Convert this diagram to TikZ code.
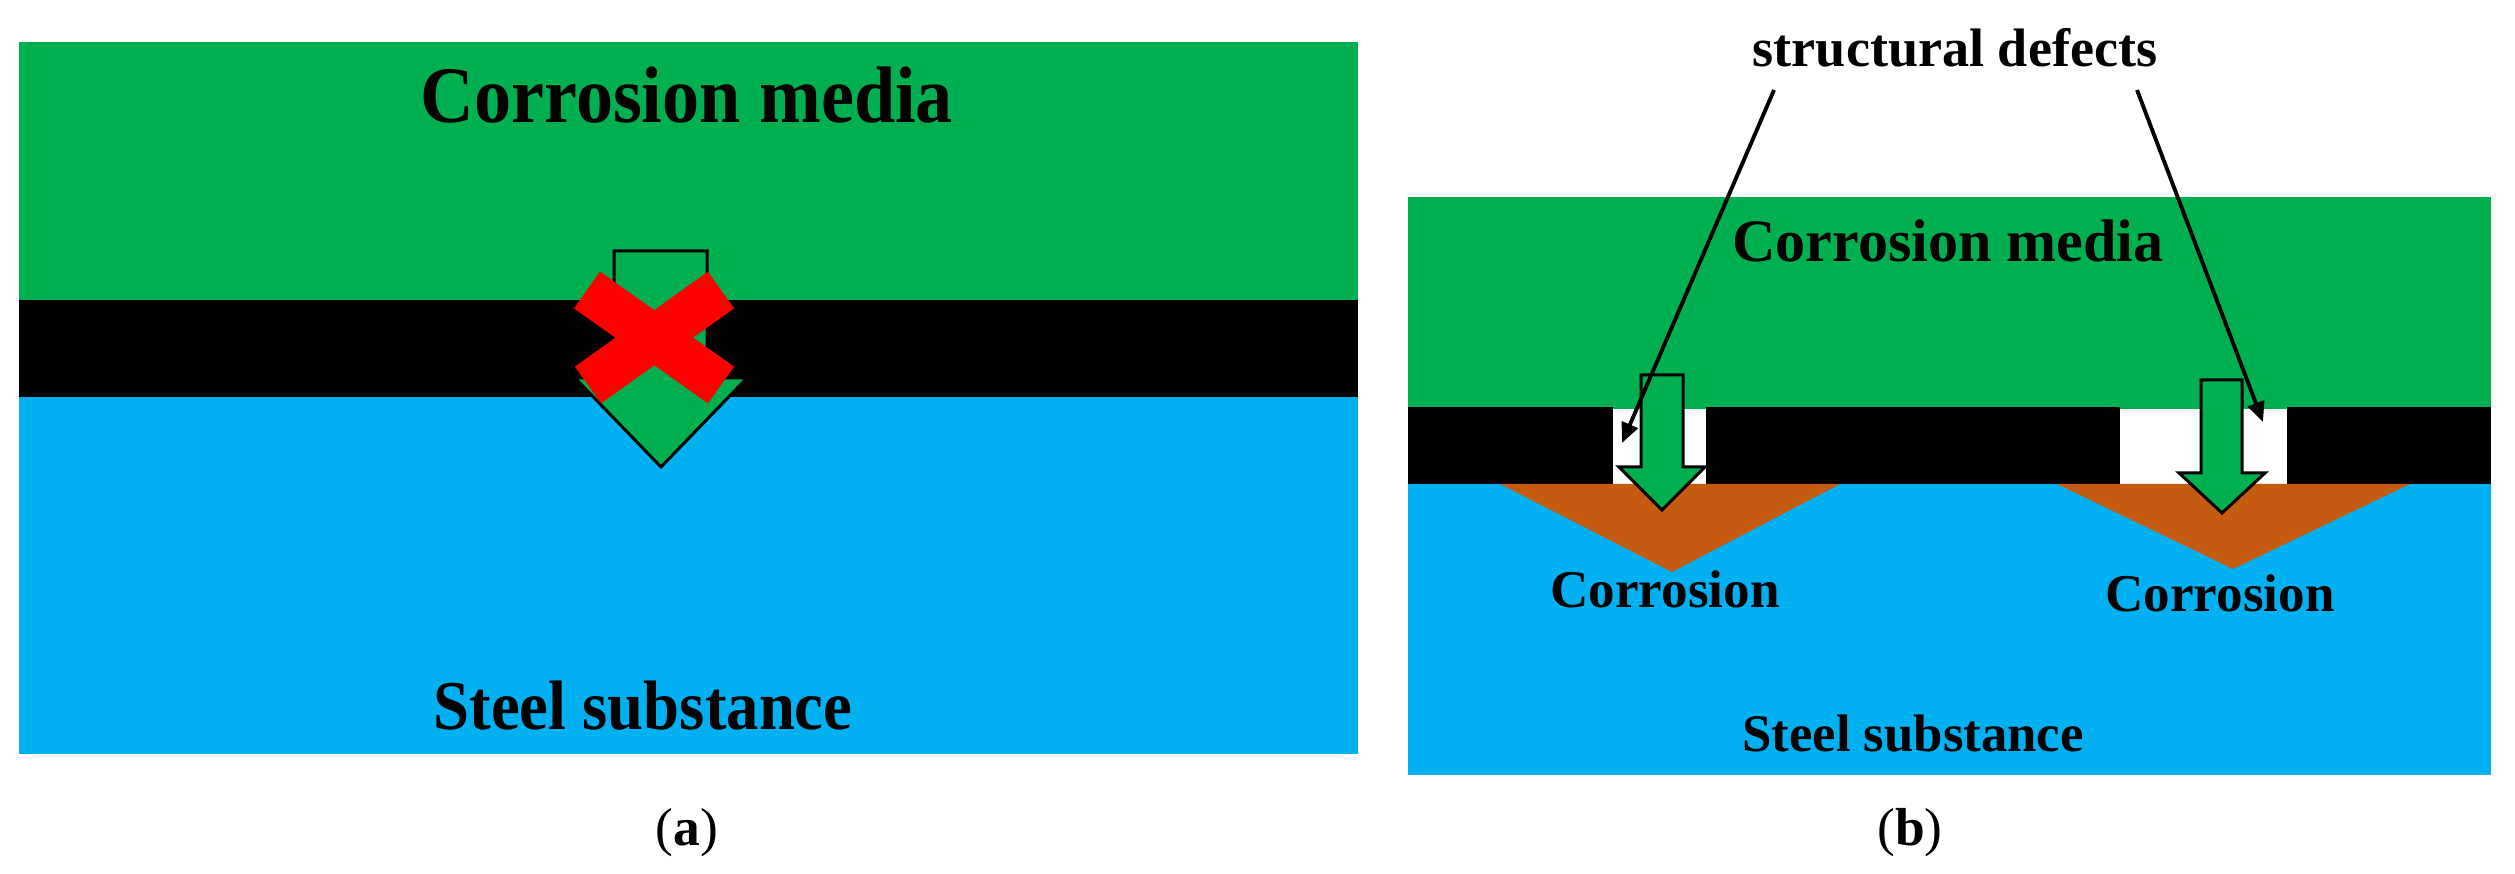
\documentclass[tikz,border=0pt]{standalone}
\usepackage{fontspec}
\setmainfont{Liberation Serif}
\usepackage{graphicx}
\usetikzlibrary{arrows.meta}

\definecolor{mediagreen}{RGB}{0,176,80}
\definecolor{steelblue}{RGB}{0,176,240}
\definecolor{rustbrown}{RGB}{197,90,17}

\begin{document}
\begin{tikzpicture}[x=0.01cm,y=-0.01cm,
	lbl/.style={inner sep=0pt,anchor=base},
	flow/.style={fill=mediagreen,draw=black,line width=0.85pt,miter limit=10},
	pointer/.style={-{Triangle[length=0.2cm,width=0.17cm]},line width=1.1pt}]
	\useasboundingbox (0,0) rectangle (2515,874);
	% (a)
	\fill[mediagreen] (19,42) rectangle (1358,300);
	\fill[black] (19,300) rectangle (1358,397);
	\fill[steelblue] (19,397) rectangle (1358,754);
	\filldraw[flow] (614,251) -- (707,251) -- (707,378) -- (747,378) -- (661,467) -- (575,378) -- (614,378) -- cycle;
	\draw[red,line width=0.45cm] (587,290) -- (721,385) (721,290) -- (588,385);
	\node[lbl,font=\bfseries\fontsize{22.8}{24}\selectfont] (mediaA) at (687,123) {\scalebox{0.925}[1]{Corrosion media}};
	\node[lbl,font=\bfseries\fontsize{19.9}{21}\selectfont] (steelA) at (643,730) {\scalebox{0.925}[1]{Steel substance}};
	\node[lbl,font=\fontsize{15.2}{16}\selectfont] (capA) at (687,846) {(\textbf{a})};
	% (b)
	\fill[mediagreen] (1408,197) rectangle (2491,409);
	\fill[black] (1408,407) rectangle (1613,484);
	\fill[black] (1706,407) rectangle (2120,484);
	\fill[black] (2287,407) rectangle (2491,484);
	\fill[steelblue] (1408,484) rectangle (2491,775);
	\fill[rustbrown] (1500,484) -- (1840,484) -- (1672,572) -- cycle;
	\fill[rustbrown] (2057,484) -- (2410,484) -- (2233,569) -- cycle;
	\filldraw[flow] (1641,375) -- (1683,375) -- (1683,467) -- (1705,467) -- (1662,510) -- (1619,467) -- (1641,467) -- cycle;
	\filldraw[flow] (2201,380) -- (2242,380) -- (2242,473) -- (2265,473) -- (2222,513) -- (2179,473) -- (2201,473) -- cycle;
	\node[lbl,font=\bfseries\fontsize{17.1}{18}\selectfont] (mediaB) at (1948,262) {Corrosion media};
	\node[lbl,font=\bfseries\fontsize{15.4}{16}\selectfont] (defects) at (1955,67) {structural defects};
	\node[lbl,font=\bfseries\fontsize{15.1}{16}\selectfont] (corr1) at (1665,608) {Corrosion};
	\node[lbl,font=\bfseries\fontsize{15.1}{16}\selectfont] (corr2) at (2220,612) {Corrosion};
	\node[lbl,font=\bfseries\fontsize{15}{16}\selectfont] (steelB) at (1913,752) {Steel substance};
	\node[lbl,font=\fontsize{15.2}{16}\selectfont] (capB) at (1910,846) {(\textbf{b})};
	\coordinate (p1) at (1774,90);
	\coordinate (p2) at (2137,90);
	\coordinate (gap1) at (1622,443);
	\coordinate (gap2) at (2263,422);
	\draw[pointer] (p1) -- (gap1);
	\draw[pointer] (p2) -- (gap2);
\end{tikzpicture}
\end{document}
